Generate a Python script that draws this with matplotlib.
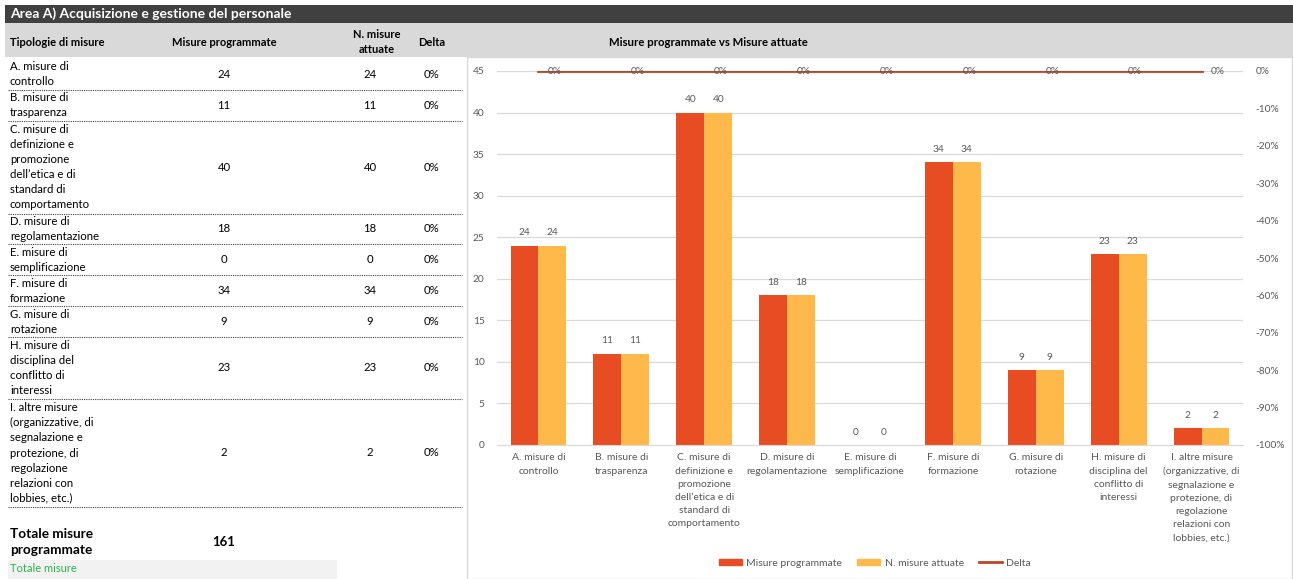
import matplotlib
matplotlib.use("Agg")
import matplotlib.pyplot as plt
import numpy as np
from matplotlib.patches import Rectangle
from matplotlib.lines import Line2D
from matplotlib.ticker import FuncFormatter, MultipleLocator

plt.rcParams["font.family"] = ["Lato", "DejaVu Sans"]

# Data
categories = [
    "A. misure di\ncontrollo",
    "B. misure di\ntrasparenza",
    "C. misure di\ndefinizione e\npromozione\ndell\u2019etica e di\nstandard di\ncomportamento",
    "D. misure di\nregolamentazione",
    "E. misure di\nsemplificazione",
    "F. misure di\nformazione",
    "G. misure di\nrotazione",
    "H. misure di\ndisciplina del\nconflitto di\ninteressi",
    "I. altre misure\n(organizzative, di\nsegnalazione e\nprotezione, di\nregolazione\nrelazioni con\nlobbies, etc.)",
]
programmate = [24, 11, 40, 18, 0, 34, 9, 23, 2]
attuate = [24, 11, 40, 18, 0, 34, 9, 23, 2]
delta = [0, 0, 0, 0, 0, 0, 0, 0, 0]
totale = 161

title = "Area A) Acquisizione e gestione del personale"
headers = ["Tipologie di misure", "Misure programmate", "N. misure\nattuate", "Delta"]
chart_title = "Misure programmate vs Misure attuate"

C_PROG = "#e84c22"
C_ATT = "#ffb94a"
C_DELTA = "#c0441f"
GRAY = "#595959"

W, H = 1293, 579
fig = plt.figure(figsize=(W / 100, H / 100), dpi=100)

# background axes in pixel coordinates (y from top)
bg = fig.add_axes([0, 0, 1, 1])
bg.set_xlim(0, W)
bg.set_ylim(H, 0)
bg.axis("off")

# title bar and header row
bg.add_patch(Rectangle((5, 5), W - 5, 18, color="#404040", lw=0))
bg.text(10, 14, title, color="white", fontsize=10, fontweight="bold", va="center")
bg.add_patch(Rectangle((5, 23), W - 5, 34, color="#d9d9d9", lw=0))
bg.text(10, 42, headers[0], fontsize=8, fontweight="bold", va="center")
bg.text(224, 42, headers[1], fontsize=8, fontweight="bold", va="center", ha="center")
bg.text(377, 42, headers[2], fontsize=8, fontweight="bold", va="center", ha="center",
        linespacing=1.5)
bg.text(432, 42, headers[3], fontsize=8, fontweight="bold", va="center", ha="center")
bg.text(708, 42, chart_title, fontsize=8.2, fontweight="bold", va="center", ha="center")

# table rows
line_h = 15.45
y = 59
for lab, p, a, d in zip(categories, programmate, attuate, delta):
    n = lab.count("\n") + 1
    h = n * line_h
    bg.text(10, y + h / 2, lab, fontsize=8.2, va="center", ha="left", linespacing=1.45)
    bg.text(224, y + h / 2, str(p), fontsize=8.2, va="center", ha="center")
    bg.text(370, y + h / 2, str(a), fontsize=8.2, va="center", ha="center")
    bg.text(432, y + h / 2, f"{d:.0%}", fontsize=8.2, va="center", ha="center")
    y += h
    bg.plot([8, 462], [y, y], color="#404040", lw=0.8, ls=(0, (1, 1)))

# totals
bg.text(10, 542, "Totale misure\nprogrammate", fontsize=9.8, fontweight="bold", va="center",
        linespacing=1.35)
bg.text(224, 542, str(totale), fontsize=9.5, fontweight="bold", va="center", ha="center")
bg.add_patch(Rectangle((8, 560), 329, 19, color="#f2f2f2", lw=0))
bg.text(10, 569, "Totale misure", fontsize=8, color="#2bb34a", va="center")

# chart border
bg.add_patch(Rectangle((467, 57), W - 468, H - 57, fill=False, ec="#d9d9d9", lw=1))

# chart
ax = fig.add_axes([497 / W, (H - 445) / H, (1243 - 497) / W, (445 - 71) / H])
x = np.arange(len(categories))
bw = 0.337
ax.bar(x - bw / 2, programmate, bw, color=C_PROG, zorder=2)
ax.bar(x + bw / 2, attuate, bw, color=C_ATT, zorder=2)
for xi, p, a in zip(x, programmate, attuate):
    ax.text(xi - bw / 2, p + 1.0, str(p), ha="center", va="bottom", fontsize=7.3, color=GRAY)
    ax.text(xi + bw / 2, a + 1.0, str(a), ha="center", va="bottom", fontsize=7.3, color=GRAY)
ax.set_xlim(-0.5, len(categories) - 0.5)
ax.set_ylim(0, 45)
ax.yaxis.set_major_locator(MultipleLocator(5))
ax.grid(axis="y", color="#d9d9d9", lw=0.9, zorder=0)
ax.set_axisbelow(True)
for s in ["top", "right", "left"]:
    ax.spines[s].set_visible(False)
ax.spines["bottom"].set_color("#d9d9d9")
ax.set_xticks(x)
ax.set_xticklabels(categories, fontsize=7.5, color=GRAY, linespacing=1.6, va="top")
ax.tick_params(axis="x", length=0, pad=6)
ax.tick_params(axis="y", length=0, labelsize=7.3, labelcolor=GRAY, pad=9)

ax2 = ax.twinx()
ax2.set_ylim(-1, 0)
ax2.yaxis.set_major_locator(MultipleLocator(0.1))
ax2.yaxis.set_major_formatter(FuncFormatter(lambda v, _: f"{v:.0%}"))
ax2.tick_params(axis="y", length=0, labelsize=7.3, labelcolor=GRAY, pad=9)
for s in ax2.spines.values():
    s.set_visible(False)
ax2.plot(x, delta, color=C_DELTA, lw=2, zorder=3)
for xi, d in zip(x, delta):
    ax2.text(xi + 0.2, d, f"{d:.0%}", ha="center", va="center", fontsize=7.3, color=GRAY)

handles = [
    Rectangle((0, 0), 1, 1, color=C_PROG),
    Rectangle((0, 0), 1, 1, color=C_ATT),
    Line2D([0], [0], color=C_DELTA, lw=2),
]
fig.legend(handles, ["Misure programmate", "N. misure attuate", "Delta"],
           loc="center", bbox_to_anchor=(875 / W, (H - 563) / H), ncol=3, frameon=False,
           fontsize=7.5, handlelength=2.2, handleheight=0.6, columnspacing=1.5,
           handletextpad=0.4, labelcolor=GRAY)

fig.savefig("out.png", dpi=100)
